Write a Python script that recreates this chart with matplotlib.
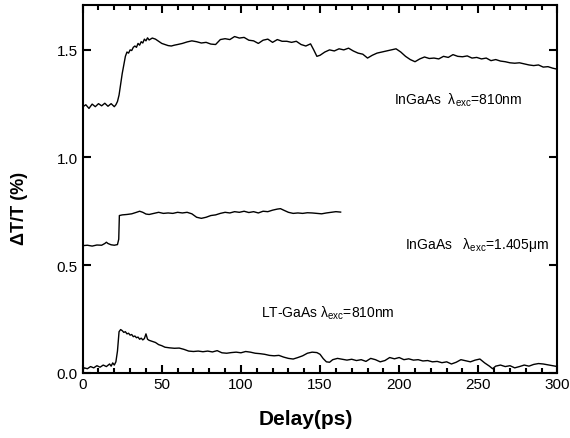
import matplotlib
matplotlib.use("Agg")
import matplotlib.pyplot as plt
import matplotlib.ticker as ticker

# InGaAs, lambda_exc = 810 nm
t1 = [0, 2, 4, 6, 8, 10, 12, 14, 16, 18, 20, 21, 22, 23, 24, 25, 26, 27, 28, 29,
      30, 31, 32, 33, 34, 35, 36, 37, 38, 39, 40, 41, 42, 44, 46, 48, 50, 52, 54, 56,
      58, 60, 63, 66, 69, 72, 75, 78, 81, 84, 87, 90, 93, 96, 99, 102, 105, 108, 111, 114,
      117, 120, 123, 126, 129, 132, 135, 138, 141, 144, 146, 148, 150, 153, 156, 159, 162, 165, 168, 171,
      174, 177, 180, 183, 186, 189, 192, 195, 198, 201, 204, 207, 210, 213, 216, 219, 222, 225, 228, 231,
      234, 237, 240, 243, 246, 249, 252, 255, 258, 261, 264, 267, 270, 273, 276, 279, 282, 285, 288, 291,
      294, 297, 300]
s1 = [1.235, 1.245, 1.228, 1.248, 1.236, 1.250, 1.240, 1.252, 1.238, 1.250, 1.236, 1.245, 1.260, 1.290, 1.340, 1.390, 1.430, 1.470, 1.490, 1.485,
      1.500, 1.497, 1.512, 1.518, 1.512, 1.530, 1.522, 1.538, 1.532, 1.550, 1.542, 1.556, 1.546, 1.555, 1.550, 1.540, 1.530, 1.525, 1.520, 1.518,
      1.522, 1.525, 1.530, 1.537, 1.542, 1.538, 1.532, 1.535, 1.527, 1.525, 1.548, 1.552, 1.548, 1.562, 1.555, 1.558, 1.545, 1.542, 1.530, 1.545,
      1.550, 1.535, 1.548, 1.540, 1.540, 1.535, 1.540, 1.525, 1.518, 1.528, 1.500, 1.470, 1.475, 1.490, 1.500, 1.495, 1.505, 1.500, 1.508, 1.495,
      1.485, 1.480, 1.462, 1.475, 1.485, 1.490, 1.495, 1.500, 1.505, 1.490, 1.470, 1.455, 1.445, 1.458, 1.467, 1.460, 1.462, 1.458, 1.470, 1.465,
      1.478, 1.470, 1.468, 1.472, 1.462, 1.465, 1.458, 1.462, 1.450, 1.455, 1.448, 1.445, 1.440, 1.438, 1.440, 1.435, 1.430, 1.427, 1.430, 1.420,
      1.422, 1.415, 1.410]

# InGaAs, lambda_exc = 1.405 um
t2 = [0, 3, 6, 9, 12, 14, 15, 16, 18, 20, 22, 22.8, 23.2, 25, 28, 31, 34, 36, 38, 40,
      42, 45, 48, 51, 54, 57, 60, 63, 66, 69, 72, 75, 78, 81, 84, 87, 90, 93, 96, 99,
      102, 105, 108, 111, 114, 117, 120, 123, 125, 127, 130, 133, 136, 139, 142, 145, 148, 151, 154, 157,
      160, 163]
s2 = [0.590, 0.592, 0.588, 0.593, 0.592, 0.600, 0.606, 0.600, 0.594, 0.592, 0.595, 0.620, 0.730, 0.733, 0.735, 0.738, 0.745, 0.750, 0.745, 0.737,
      0.735, 0.740, 0.745, 0.740, 0.742, 0.740, 0.745, 0.742, 0.745, 0.738, 0.722, 0.717, 0.722, 0.730, 0.733, 0.740, 0.745, 0.742, 0.748, 0.745,
      0.750, 0.744, 0.748, 0.742, 0.750, 0.748, 0.755, 0.760, 0.762, 0.755, 0.745, 0.740, 0.742, 0.740, 0.743, 0.742, 0.740, 0.738, 0.742, 0.745,
      0.748, 0.746]

# LT-GaAs, lambda_exc = 810 nm
t3 = [0, 1, 3, 5, 7, 9, 11, 13, 15, 17, 18, 19, 20, 21, 22, 23, 24, 25, 26, 27,
      28, 29, 30, 31, 32, 33, 34, 35, 36, 37, 38, 39, 40, 41, 42, 44, 46, 48, 50, 52,
      55, 58, 61, 64, 67, 70, 73, 76, 79, 82, 85, 88, 91, 94, 97, 100, 103, 106, 109, 112,
      115, 118, 121, 124, 127, 130, 133, 136, 139, 142, 145, 148, 150, 152, 154, 156, 158, 161, 164, 167,
      170, 173, 176, 179, 182, 185, 188, 191, 194, 197, 200, 203, 206, 209, 212, 215, 218, 221, 224, 227,
      230, 233, 236, 239, 242, 245, 248, 251, 254, 257, 259, 261, 264, 267, 270, 273, 276, 279, 282, 285,
      288, 291, 294, 297, 300]
s3 = [0.010, 0.022, 0.018, 0.028, 0.022, 0.032, 0.025, 0.035, 0.028, 0.040, 0.030, 0.045, 0.035, 0.050, 0.100, 0.190, 0.200, 0.195, 0.187, 0.190,
      0.180, 0.183, 0.174, 0.177, 0.167, 0.170, 0.162, 0.165, 0.155, 0.160, 0.152, 0.158, 0.180, 0.155, 0.150, 0.145, 0.140, 0.130, 0.125, 0.118,
      0.115, 0.113, 0.114, 0.108, 0.100, 0.098, 0.100, 0.097, 0.100, 0.096, 0.102, 0.092, 0.090, 0.093, 0.095, 0.092, 0.098, 0.095, 0.090, 0.088,
      0.085, 0.080, 0.078, 0.080, 0.072, 0.066, 0.063, 0.070, 0.078, 0.090, 0.095, 0.093, 0.085, 0.065, 0.050, 0.048, 0.060, 0.066, 0.062, 0.058,
      0.062, 0.056, 0.060, 0.052, 0.066, 0.060, 0.050, 0.056, 0.070, 0.064, 0.070, 0.060, 0.064, 0.058, 0.060, 0.054, 0.056, 0.050, 0.052, 0.046,
      0.050, 0.040, 0.048, 0.060, 0.055, 0.050, 0.058, 0.063, 0.045, 0.030, 0.018, 0.030, 0.035, 0.028, 0.032, 0.022, 0.028, 0.035, 0.030, 0.038,
      0.042, 0.040, 0.036, 0.032, 0.028]

labels = [r"InGaAs  $\mathregular{\lambda_{exc}}$=810nm",
          r"InGaAs   $\mathregular{\lambda_{exc}}$=1.405$\mathregular{\mu}$m",
          r"LT-GaAs $\mathregular{\lambda_{exc}}$=810nm"]
label_pos = [(197, 1.272), (203.5, 0.598), (113, 0.281)]

plt.rcParams["font.family"] = ["Liberation Sans", "DejaVu Sans"]

fig = plt.figure(figsize=(5.7, 4.39), dpi=100)
ax = fig.add_axes([0.145, 0.149, 0.833, 0.838])

for t, s in [(t1, s1), (t2, s2), (t3, s3)]:
    ax.plot(t, s, color="black", linewidth=1.0)

for txt, (x, y) in zip(labels, label_pos):
    ax.text(x, y, txt, fontsize=10, ha="left", va="center")

ax.set_xlim(0, 300)
ax.set_ylim(0, 1.71)
ax.xaxis.set_major_locator(ticker.MultipleLocator(50))
ax.xaxis.set_minor_locator(ticker.MultipleLocator(10))
ax.yaxis.set_major_locator(ticker.MultipleLocator(0.5))
ax.yaxis.set_major_formatter(ticker.FormatStrFormatter("%.1f"))

ax.tick_params(which="both", direction="in", top=True, right=True, width=1.5, labelsize=11)
ax.tick_params(which="major", length=6)
ax.tick_params(which="minor", length=3.5)
ax.tick_params(axis="y", which="minor", left=False, right=False)
for sp in ax.spines.values():
    sp.set_linewidth(1.5)

ax.set_xlabel("Delay(ps)", fontsize=15, fontweight="bold")
ax.xaxis.set_label_coords(0.47, -0.1)
ax.set_ylabel("ΔT/T (%)", fontsize=13, fontweight="bold")
ax.yaxis.set_label_coords(-0.115, 0.45)

plt.savefig("out.png", dpi=100)
